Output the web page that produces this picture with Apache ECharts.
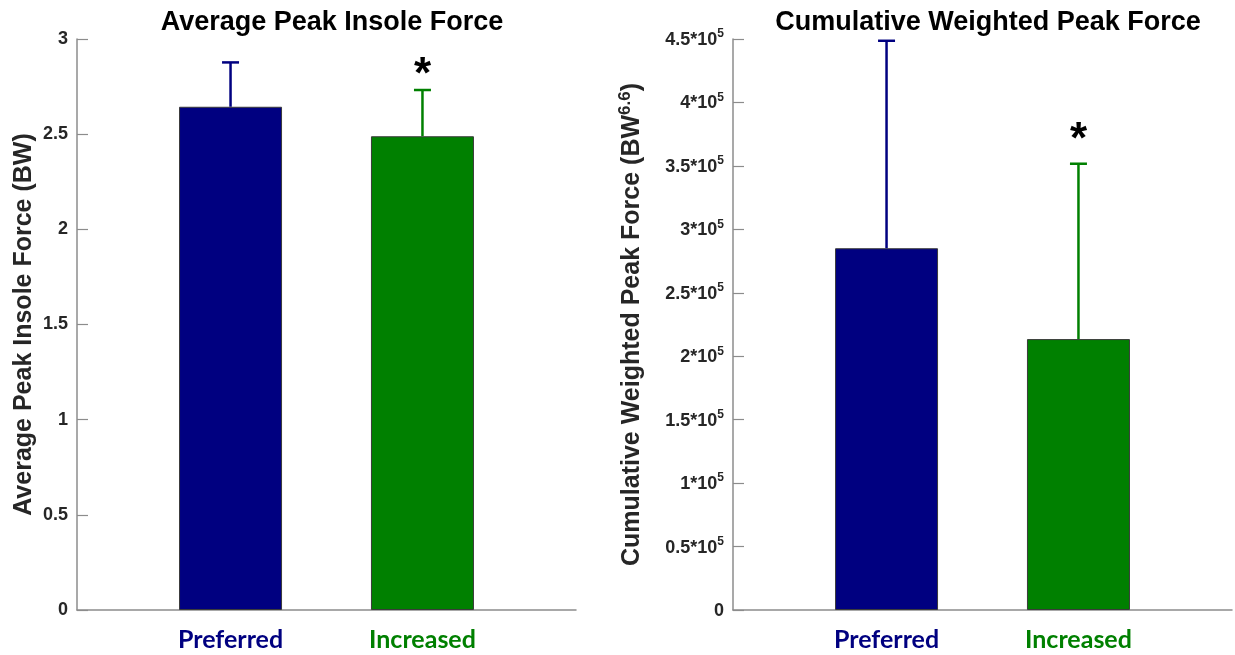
<!DOCTYPE html>
<html>
<head>
<meta charset="utf-8">
<script src="https://cdn.jsdelivr.net/npm/echarts@6/dist/echarts.min.js"></script>
<style>
html,body{margin:0;padding:0;background:#fff;}
#chart{width:1235px;height:655px;}
</style>
</head>
<body>
<div id="chart"></div>
<script>
// ---- data ----
const categories = ['Preferred', 'Increased'];
const categoryX = [1, 2];
const barColors = ['#000080', '#008000'];
const significance = ['', '*'];

const forceMean = [2.644, 2.489];
const forceSD = [0.233, 0.243];

const cumMean = [285100, 213500];
const cumSD = [163500, 138200];

const forceTicks = { min: 0, max: 3, interval: 0.5 };
const cumTicks = { min: 0, max: 450000, interval: 50000 };

// ---- chart ----
const FONT = '"Liberation Sans", Arial, sans-serif';
const AXIS_GREY = '#8c8c8c';
const LABEL_COL = '#262626';

function barData(means) {
  return means.map((m, i) => ({ value: [categoryX[i], m], itemStyle: { color: barColors[i] } }));
}
function errData(means, sds) {
  return means.map((m, i) => [categoryX[i], m, sds[i], i]);
}
function errRender(astOffset) {
  return function (params, api) {
    const x = api.value(0), m = api.value(1), sd = api.value(2), idx = api.value(3);
    const p0 = api.coord([x, m]);
    const p1 = api.coord([x, m + sd]);
    const col = barColors[idx];
    const children = [
      { type: 'line', shape: { x1: p0[0], y1: p0[1], x2: p1[0], y2: p1[1] }, style: { stroke: col, lineWidth: 2.5 } },
      { type: 'line', shape: { x1: p1[0] - 8.5, y1: p1[1], x2: p1[0] + 8.5, y2: p1[1] }, style: { stroke: col, lineWidth: 2.5 } }
    ];
    if (significance[idx]) {
      children.push({
        type: 'text',
        style: {
          text: significance[idx], x: p1[0], y: p1[1] - astOffset,
          align: 'center', verticalAlign: 'middle',
          font: 'bold 44px ' + FONT, fill: '#000'
        }
      });
    }
    return { type: 'group', children: children };
  };
}

function xAxisCfg(gridIndex) {
  return {
    type: 'value', gridIndex: gridIndex, min: 0.2, max: 2.8, interval: 0.2,
    axisLine: { show: true, lineStyle: { color: AXIS_GREY, width: 1.5 } },
    axisTick: { show: false },
    splitLine: { show: false },
    axisLabel: {
      margin: 17,
      formatter: function (v) {
        for (let i = 0; i < categoryX.length; i++) {
          if (Math.abs(v - categoryX[i]) < 1e-6) return '{c' + i + '|' + categories[i] + '}';
        }
        return '';
      },
      rich: {
        c0: { color: barColors[0], fontFamily: 'Lato', fontWeight: 'bold', fontSize: 25 },
        c1: { color: barColors[1], fontFamily: 'Lato', fontWeight: 'bold', fontSize: 25 }
      }
    }
  };
}

const supRich = {
  b: { fontFamily: FONT, fontWeight: 'bold', fontSize: 18, color: LABEL_COL, verticalAlign: 'bottom', lineHeight: 20 },
  s: { fontFamily: FONT, fontWeight: 'bold', fontSize: 12, color: LABEL_COL, verticalAlign: 'bottom', padding: [0, 0, 9, 0], lineHeight: 14 }
};

const option = {
  backgroundColor: '#fff',
  animation: false,
  title: [
    { text: 'Average Peak Insole Force', left: 327, top: 4, textAlign: 'center',
      textStyle: { fontFamily: FONT, fontWeight: 'bold', fontSize: 27, color: '#000' } },
    { text: 'Cumulative Weighted Peak Force', left: 983, top: 4, textAlign: 'center',
      textStyle: { fontFamily: FONT, fontWeight: 'bold', fontSize: 27, color: '#000' } }
  ],
  grid: [
    { left: 77, top: 39, width: 499, height: 571, containLabel: false },
    { left: 733, top: 39, width: 501, height: 571, containLabel: false }
  ],
  xAxis: [xAxisCfg(0), xAxisCfg(1)],
  yAxis: [
    {
      type: 'value', gridIndex: 0, min: forceTicks.min, max: forceTicks.max, interval: forceTicks.interval,
      name: 'Average Peak Insole Force (BW)', nameLocation: 'middle', nameRotate: 90, nameGap: 40,
      nameTextStyle: { fontFamily: FONT, fontWeight: 'bold', fontSize: 25, color: LABEL_COL },
      axisLine: { show: true, lineStyle: { color: AXIS_GREY, width: 1.5 } },
      axisTick: { show: true, inside: true, length: 11, lineStyle: { color: AXIS_GREY, width: 1.2 } },
      splitLine: { show: false },
      axisLabel: { margin: 9, fontFamily: FONT, fontWeight: 'bold', fontSize: 18, color: LABEL_COL }
    },
    {
      type: 'value', gridIndex: 1, min: cumTicks.min, max: cumTicks.max, interval: cumTicks.interval,
      name: 'Cumulative Weighted Peak Force (BW{s|6.6})', nameLocation: 'middle', nameRotate: 90, nameGap: 86,
      nameTextStyle: {
        fontFamily: FONT, fontWeight: 'bold', fontSize: 25, color: LABEL_COL,
        rich: {
          s: { fontFamily: FONT, fontWeight: 'bold', fontSize: 17, color: LABEL_COL, verticalAlign: 'bottom', padding: [0, 0, 13, 0] }
        }
      },
      axisLine: { show: true, lineStyle: { color: AXIS_GREY, width: 1.5 } },
      axisTick: { show: true, inside: true, length: 11, lineStyle: { color: AXIS_GREY, width: 1.2 } },
      splitLine: { show: false },
      axisLabel: {
        margin: 9,
        formatter: function (v) {
          if (v === 0) return '{b|0}';
          return '{b|' + (v / 1e5) + '*10}{s|5}';
        },
        rich: supRich
      }
    }
  ],
  series: [
    { type: 'bar', xAxisIndex: 0, yAxisIndex: 0, barWidth: 103, data: barData(forceMean),
      itemStyle: { borderColor: '#3a3a3a', borderWidth: 1 } },
    { type: 'custom', xAxisIndex: 0, yAxisIndex: 0, data: errData(forceMean, forceSD),
      renderItem: errRender(14), z: 3 },
    { type: 'bar', xAxisIndex: 1, yAxisIndex: 1, barWidth: 103, data: barData(cumMean),
      itemStyle: { borderColor: '#3a3a3a', borderWidth: 1 } },
    { type: 'custom', xAxisIndex: 1, yAxisIndex: 1, data: errData(cumMean, cumSD),
      renderItem: errRender(23), z: 3 }
  ]
};

const chart = echarts.init(document.getElementById('chart'), null, { renderer: 'canvas' });
chart.setOption(option);
</script>
</body>
</html>
